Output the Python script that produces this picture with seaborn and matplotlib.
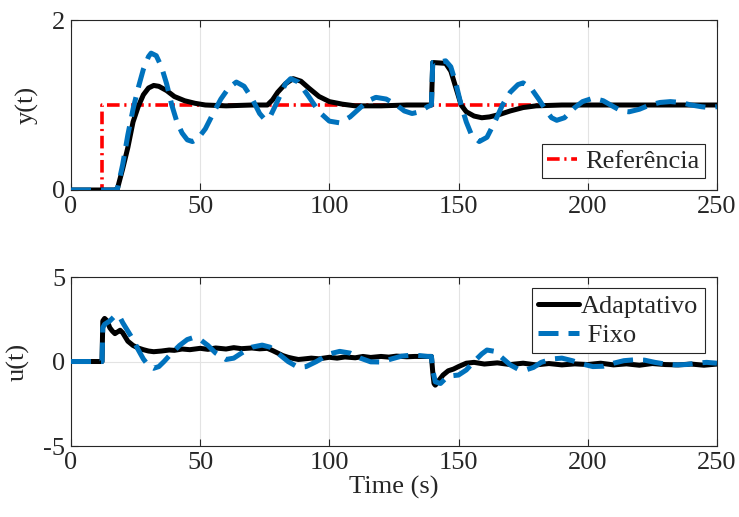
import numpy as np
import pandas as pd
import matplotlib
matplotlib.use("Agg")
import matplotlib.pyplot as plt
import seaborn as sns

# ---------------- data ----------------
t_ref = [0, 12, 12, 250]
y_ref = [0, 0, 1, 1]

t_ya = [0, 17, 18, 20, 22, 24, 26, 28, 30, 32, 34, 37, 40, 44, 48, 52, 60, 70, 76,
        78, 80, 83, 86, 89, 92, 96, 100, 105, 110, 120, 130, 139.5, 140, 145, 147,
        149, 151, 153, 156, 159, 162, 166, 170, 175, 180, 190, 200, 220, 250]
y_ya = [0, 0, 0.02, 0.25, 0.5, 0.8, 0.98, 1.12, 1.2, 1.23, 1.22, 1.17, 1.1, 1.05,
        1.02, 1.0, 0.99, 1.0, 1.0, 1.06, 1.15, 1.25, 1.31, 1.28, 1.2, 1.1, 1.04,
        1.01, 0.99, 0.99, 1.0, 1.0, 1.5, 1.49, 1.4, 1.2, 1.0, 0.92, 0.87, 0.85,
        0.86, 0.89, 0.93, 0.97, 0.99, 1.0, 1.0, 1.0, 1.0]

t_yf = [0, 17, 18, 20, 22, 24, 26, 28, 30, 31, 33, 35, 37, 39, 41, 43, 45, 47, 49,
        52, 55, 58, 61, 64, 67, 70, 73, 75, 77, 80, 83, 85, 88, 92, 96, 100, 104,
        108, 112, 115, 118, 122, 126, 129, 132, 135, 138, 139.5, 140, 142, 145,
        147, 149, 151, 153, 155, 158, 161, 164, 167, 170, 173, 175, 178, 181, 184,
        186, 188, 191, 195, 198, 202, 206, 210, 213, 216, 220, 224, 228, 232, 236,
        240, 244, 247, 250]
y_yf = [0, 0, 0.02, 0.3, 0.65, 0.95, 1.2, 1.42, 1.57, 1.61, 1.58, 1.45, 1.25, 1.0,
        0.8, 0.67, 0.59, 0.57, 0.6, 0.72, 0.9, 1.07, 1.2, 1.27, 1.22, 1.08, 0.9,
        0.83, 0.86, 1.05, 1.25, 1.31, 1.27, 1.1, 0.92, 0.81, 0.79, 0.86, 0.97,
        1.05, 1.09, 1.07, 1.0, 0.93, 0.9, 0.92, 0.98, 1.0, 1.5, 1.5, 1.52, 1.45,
        1.25, 1.0, 0.8, 0.65, 0.57, 0.62, 0.8, 1.0, 1.15, 1.24, 1.26, 1.2, 1.07,
        0.93, 0.85, 0.82, 0.85, 0.97, 1.04, 1.08, 1.05, 0.98, 0.93, 0.92, 0.95,
        1.0, 1.03, 1.04, 1.03, 1.0, 0.98, 0.97, 0.98]

t_ua = [0, 12, 12.3, 13, 14, 15, 16, 17, 18, 19, 20, 21, 22, 24, 26, 28, 30, 32, 35,
        38, 40, 43, 46, 50, 53, 56, 60, 63, 66, 70, 73, 76, 78, 80, 82, 84, 86, 88,
        90, 93, 96, 100, 103, 106, 110, 113, 116, 120, 123, 126, 130, 133, 136,
        139.5, 140, 140.5, 141, 142, 144, 146, 148, 150, 153, 156, 160, 165, 170,
        175, 180, 185, 190, 195, 200, 205, 210, 215, 220, 225, 230, 235, 240, 245, 250]
u_ua = [0, 0, 2.4, 2.55, 2.4, 2.0, 1.8, 1.65, 1.75, 1.85, 1.7, 1.45, 1.2, 0.95, 0.8,
        0.7, 0.62, 0.58, 0.62, 0.68, 0.66, 0.74, 0.7, 0.78, 0.72, 0.8, 0.74, 0.82,
        0.76, 0.8, 0.75, 0.78, 0.65, 0.5, 0.35, 0.25, 0.18, 0.12, 0.15, 0.2, 0.16,
        0.25, 0.2, 0.27, 0.22, 0.3, 0.24, 0.3, 0.26, 0.32, 0.28, 0.3, 0.3, 0.3, -0.6,
        -1.3, -1.4, -1.2, -0.8, -0.55, -0.45, -0.3, -0.1, -0.05, -0.15, -0.08,
        -0.18, -0.1, -0.2, -0.12, -0.2, -0.14, -0.18, -0.1, -0.2, -0.14, -0.22,
        -0.12, -0.18, -0.2, -0.15, -0.22, -0.15]

t_uf = [0, 12, 12.3, 13, 15, 17, 18, 19, 20, 22, 24, 26, 28, 30, 32, 34, 36, 39, 42,
        45, 47, 50, 53, 56, 60, 63, 66, 70, 74, 77, 80, 84, 88, 91, 95, 100, 104,
        108, 112, 116, 120, 124, 128, 132, 135, 138, 139.5, 140, 141, 143, 145, 147,
        150, 153, 156, 159, 161, 164, 167, 170, 173, 176, 179, 182, 186, 190, 194,
        198, 202, 206, 210, 214, 218, 222, 226, 230, 234, 238, 242, 246, 250]
u_uf = [0, 0, 2.0, 2.2, 2.4, 2.7, 2.75, 2.6, 2.3, 1.8, 1.3, 0.7, 0.15, -0.25, -0.4,
        -0.3, 0.0, 0.5, 0.95, 1.3, 1.4, 1.3, 0.95, 0.5, 0.12, 0.2, 0.5, 0.85, 0.97,
        0.85, 0.5, 0.0, -0.35, -0.3, 0.0, 0.45, 0.6, 0.5, 0.2, -0.02, -0.03, 0.15,
        0.32, 0.38, 0.35, 0.3, 0.3, -0.5, -1.2, -1.3, -1.0, -0.85, -0.8, -0.5, 0.0,
        0.45, 0.68, 0.6, 0.2, -0.2, -0.45, -0.5, -0.35, -0.05, 0.15, 0.2, 0.05,
        -0.15, -0.3, -0.28, -0.1, 0.05, 0.1, 0.08, -0.05, -0.15, -0.2, -0.18, -0.1,
        -0.05, -0.1]

x_ticks = [0, 50, 100, 150, 200, 250]
y_ticks_top = [0, 2]
y_ticks_bot = [-5, 0, 5]

# ---------------- style ----------------
sns.set_theme(style="white")
plt.rcParams["font.family"] = ["Liberation Serif", "DejaVu Serif"]
plt.rcParams["axes.unicode_minus"] = False
plt.rcParams["font.size"] = 19

BLACK = "#000000"
BLUE = "#0072BD"
RED = "#FF0000"
FS = 19

fig = plt.figure(figsize=(7.39, 5.17), dpi=100)
ax1 = fig.add_axes([0.0961, 0.6325, 0.874, 0.3288])
ax2 = fig.add_axes([0.0961, 0.1373, 0.874, 0.3269])


def draw(ax, t, v, color, lw, ls, label, dashes=None, z=2):
    df = pd.DataFrame({"t": t, "v": v})
    sns.lineplot(data=df, x="t", y="v", ax=ax, color=color, linewidth=lw,
                 linestyle=ls, estimator=None, sort=False, label=label, zorder=z)
    ln = ax.lines[-1]
    if dashes is not None:
        ln.set_dashes(dashes)
    ln.set_solid_joinstyle("round")
    ln.set_dash_capstyle("butt")
    return ln


# top
l_ref = draw(ax1, t_ref, y_ref, RED, 2.6, "-.", "Referência", dashes=(3.5, 1.3, 0.6, 1.3), z=2)
draw(ax1, t_ya, y_ya, BLACK, 3.6, "-", "_a", z=3)
draw(ax1, t_yf, y_yf, BLUE, 3.6, "--", "_b", dashes=(4, 2), z=4)

# bottom
l_a = draw(ax2, t_ua, u_ua, BLACK, 3.6, "-", "Adaptativo", z=3)
l_f = draw(ax2, t_uf, u_uf, BLUE, 3.6, "--", "Fixo", dashes=(4, 2), z=4)

for ax, yl, yt, lab in [(ax1, (0, 2), y_ticks_top, "y(t)"), (ax2, (-5, 5), y_ticks_bot, "u(t)")]:
    ax.set_xlim(0, 250)
    ax.set_ylim(*yl)
    ax.set_xticks(x_ticks)
    ax.set_yticks(yt)
    ax.set_xticklabels([str(v) for v in x_ticks], fontsize=FS)
    ax.set_yticklabels([str(v) for v in yt], fontsize=FS)
    ax.grid(True, color="#e3e3e3", linewidth=0.8)
    ax.set_axisbelow(True)
    for s in ax.spines.values():
        s.set_color("#262626")
        s.set_linewidth(0.8)
        s.set_visible(True)
    ax.tick_params(direction="in", length=5, width=0.8, color="#262626",
                   top=True, right=True, bottom=True, left=True, pad=4,
                   labelcolor="#262626")
    ax.set_ylabel(lab, fontsize=FS, color="#262626", labelpad=10)
    ax.set_xlabel("")

ax2.set_xlabel("Time (s)", fontsize=FS, color="#262626", labelpad=2)

leg1 = ax1.legend(handles=[l_ref], labels=["Referência"], loc="lower right",
                  bbox_to_anchor=(0.981, 0.07), fontsize=FS, frameon=True,
                  fancybox=False, edgecolor="#262626", framealpha=1,
                  handlelength=1.15, handletextpad=0.3, borderpad=0.2,
                  borderaxespad=0)
leg1.get_frame().set_linewidth(0.8)

leg2 = ax2.legend(handles=[l_a, l_f], labels=["Adaptativo", " Fixo"], loc="upper right",
                  bbox_to_anchor=(0.981, 0.935), fontsize=FS, frameon=True,
                  fancybox=False, edgecolor="#262626", framealpha=1,
                  handlelength=1.55, handletextpad=0.05, borderpad=0.25,
                  labelspacing=0.2, borderaxespad=0)
leg2.get_frame().set_linewidth(0.8)

fig.savefig("out.png", dpi=100)
